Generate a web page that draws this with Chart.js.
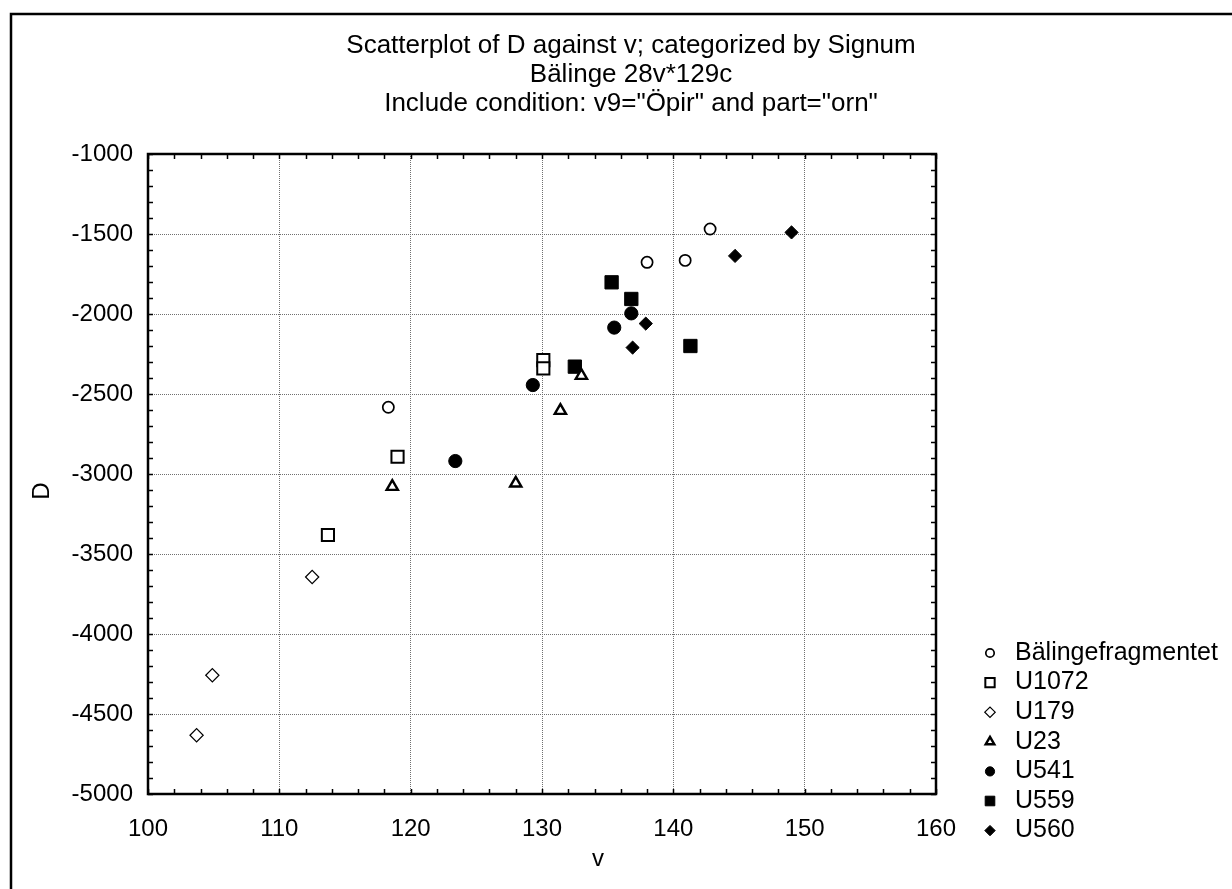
<!DOCTYPE html>
<html>
<head>
<meta charset="utf-8">
<script src="https://cdn.jsdelivr.net/npm/chart.js@4.4.0/dist/chart.umd.min.js"></script>
<style>
  html, body { margin: 0; padding: 0; background: #fff; }
  #wrap { width: 1232px; height: 889px; }
</style>
</head>
<body>
<div id="wrap"><canvas id="chartScatter" width="1232" height="889"></canvas></div>
<script>
var titleLines = [
  'Scatterplot of D against v; categorized by Signum',
  'Bälinge 28v*129c',
  'Include condition: v9="Öpir" and part="orn"'
]
var signums = ['Bälingefragmentet', 'U1072', 'U179', 'U23', 'U541', 'U559', 'U560']

// v / D per signum
var balingeV = [118.3, 138.0, 140.9, 142.8]
var balingeD = [-2583, -1677, -1665, -1469]
var u1072V = [113.7, 119.0, 130.1, 130.1]
var u1072D = [-3381, -2892, -2288, -2340]
var u179V = [103.7, 104.9, 112.5]
var u179D = [-4633, -4258, -3644]
var u23V = [118.6, 128.0, 131.4, 133.0]
var u23D = [-3079, -3058, -2604, -2385]
var u541V = [123.4, 129.3, 135.5, 136.8]
var u541D = [-2919, -2444, -2085, -1996]
var u559V = [132.5, 135.3, 136.8, 141.3]
var u559D = [-2329, -1802, -1906, -2200]
var u560V = [136.9, 137.9, 144.7, 149.0]
var u560D = [-2210, -2060, -1637, -1490]

var xTicks = [100, 110, 120, 130, 140, 150, 160]
var yTicks = [-5000, -4500, -4000, -3500, -3000, -2500, -2000, -1500, -1000]

var fontFamily = '"Liberation Sans", Arial, Helvetica, sans-serif'

function pairs(xs, ys) {
  return xs.map(function (x, i) { return { x: x, y: ys[i] } })
}

// marker looks: [pointStyle, filled, radius, borderWidth, legendRadius]
var markers = [
  ['circle', false, 5.6, 1.7, 4.2],
  ['rect', false, 8.6, 2, 6.6],
  ['rectRot', false, 6.6, 1.2, 5.2],
  ['triangle', false, 6.5, 2.4, 5],
  ['circle', true, 6.6, 1, 4.6],
  ['rect', true, 9.4, 1, 6.8],
  ['rectRot', true, 6.6, 1, 5.2]
]
var seriesData = [
  pairs(balingeV, balingeD),
  pairs(u1072V, u1072D),
  pairs(u179V, u179D),
  pairs(u23V, u23D),
  pairs(u541V, u541D),
  pairs(u559V, u559D),
  pairs(u560V, u560D)
]

var datasets = signums.map(function (name, i) {
  var m = markers[i]
  return {
    label: name,
    data: seriesData[i],
    pointStyle: m[0],
    pointRadius: m[2],
    pointHoverRadius: m[2],
    pointBorderWidth: m[3],
    pointBorderColor: '#000',
    pointBackgroundColor: m[1] ? '#000' : '#fff',
    showLine: false
  }
})

var framePlugin = {
  id: 'frame',
  beforeDraw: function (chart) {
    var ctx = chart.ctx
    ctx.save()
    ctx.fillStyle = '#fff'
    ctx.fillRect(0, 0, chart.width, chart.height)
    // outer border of the graph window
    ctx.strokeStyle = '#000'
    ctx.lineWidth = 2.5
    ctx.strokeRect(11, 14, chart.width + 50, chart.height + 50)
    ctx.restore()
  },
  afterDraw: function (chart) {
    var ctx = chart.ctx
    var a = chart.chartArea
    var xs = chart.scales.x
    var ys = chart.scales.y
    ctx.save()
    ctx.strokeStyle = '#000'
    // inner tick marks on all four sides
    ctx.lineWidth = 1.5
    ctx.beginPath()
    for (var v = 100; v <= 160; v += 2) {
      var px = Math.round(xs.getPixelForValue(v)) + 0.5
      ctx.moveTo(px, a.bottom); ctx.lineTo(px, a.bottom - 5)
      ctx.moveTo(px, a.top); ctx.lineTo(px, a.top + 5)
    }
    for (var d = -5000; d <= -1000; d += 100) {
      var py = Math.round(ys.getPixelForValue(d)) + 0.5
      ctx.moveTo(a.left, py); ctx.lineTo(a.left + 5, py)
      ctx.moveTo(a.right, py); ctx.lineTo(a.right - 5, py)
    }
    ctx.stroke()
    ctx.lineWidth = 2.5
    ctx.strokeRect(a.left, a.top, a.right - a.left, a.bottom - a.top)

    // titles
    ctx.fillStyle = '#000'
    ctx.font = '26px ' + fontFamily
    ctx.textAlign = 'center'
    ctx.textBaseline = 'middle'
    titleLines.forEach(function (t, i) {
      ctx.fillText(t, 631, 46 + i * 29)
    })
    // axis titles
    ctx.font = '24px ' + fontFamily
    ctx.fillText('v', 598, 859)
    ctx.save()
    ctx.translate(42, 491)
    ctx.rotate(-Math.PI / 2)
    ctx.fillText('D', 0, 0)
    ctx.restore()

    // legend
    ctx.font = '25px ' + fontFamily
    ctx.textAlign = 'left'
    chart.data.datasets.forEach(function (ds, i) {
      var m = markers[i]
      var y = 653 + i * 29.6
      ctx.fillStyle = m[1] ? '#000' : '#fff'
      ctx.strokeStyle = '#000'
      ctx.lineWidth = m[3]
      Chart.helpers.drawPoint(ctx, { pointStyle: m[0], rotation: 0, radius: m[4], borderWidth: m[3] }, 990, y)
      ctx.fillStyle = '#000'
      ctx.fillText(ds.label, 1015, y)
    })
    ctx.restore()
  }
}

var chartScatterCanvas = document.getElementById('chartScatter').getContext('2d')

new Chart(chartScatterCanvas, {
  type: 'scatter',
  data: { datasets: datasets },
  plugins: [framePlugin],
  options: {
    responsive: false,
    animation: false,
    layout: { padding: { left: 0, top: 154, right: 296, bottom: 0 } },
    plugins: {
      legend: { display: false },
      title: { display: false },
      tooltip: { enabled: false }
    },
    scales: {
      x: {
        type: 'linear',
        min: 100,
        max: 160,
        afterFit: function (scale) { scale.height = 95 },
        afterBuildTicks: function (scale) { scale.ticks = xTicks.map(function (v) { return { value: v } }) },
        ticks: {
          color: '#000',
          font: { family: fontFamily, size: 24 },
          padding: 21,
          maxRotation: 0,
          callback: function (v) { return String(v) }
        },
        grid: { color: '#707070', lineWidth: 1, drawTicks: false },
        border: { display: false, dash: [1, 1] }
      },
      y: {
        type: 'linear',
        min: -5000,
        max: -1000,
        afterFit: function (scale) { scale.width = 148 },
        afterBuildTicks: function (scale) { scale.ticks = yTicks.map(function (v) { return { value: v } }) },
        ticks: {
          color: '#000',
          font: { family: fontFamily, size: 24 },
          padding: 15,
          callback: function (v) { return String(v) }
        },
        grid: { color: '#707070', lineWidth: 1, drawTicks: false },
        border: { display: false, dash: [1, 1] }
      }
    }
  }
})
</script>
</body>
</html>
